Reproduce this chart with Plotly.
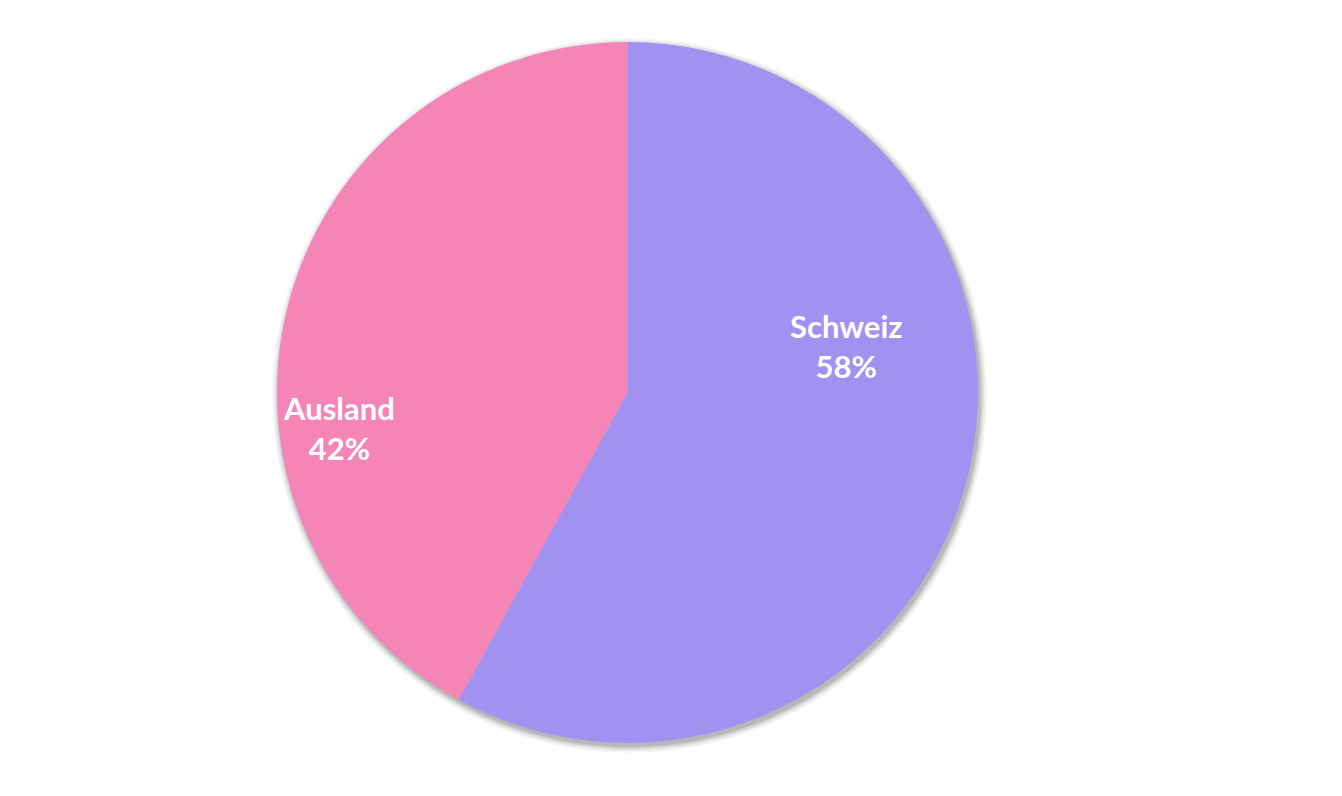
import plotly.graph_objects as go

labels = ["Schweiz", "Ausland"]
values = [58, 42]
colors = ["#A192F2", "#F585B7"]

W, H = 1342, 796
OFF = 8  # page body margin
cx, cy, r = 627.5 - OFF, 392.5 - OFF, 350.5

fig = go.Figure(go.Pie(
    labels=labels,
    values=values,
    sort=False,
    direction="clockwise",
    rotation=0,
    marker=dict(colors=colors, line=dict(width=0)),
    textinfo="none",
    domain=dict(x=[(cx - r) / W, (cx + r) / W], y=[(H - cy - r) / H, (H - cy + r) / H]),
    hoverinfo="label+percent",
    showlegend=False,
))

# label positions (page pixels) for each slice
label_pos = [(846, 346), (339, 428)]
total = sum(values)
annotations = []
for lab, val, (px, py) in zip(labels, values, label_pos):
    annotations.append(dict(
        x=(px - OFF) / W, y=(H - (py - OFF)) / H, xref="paper", yref="paper",
        text=f"<b>{lab}<br>{round(100 * val / total)}%</b>", showarrow=False,
        xanchor="center", yanchor="middle", align="center",
        font=dict(family="Lato, 'Open Sans', sans-serif", size=31, color="white"),
    ))

# soft drop shadow behind the pie
shapes = []
for grow, op in [(7, 0.03), (5.5, 0.04), (4, 0.06), (2.5, 0.08), (1, 0.10)]:
    dx, dy = 2, 3
    rr = r + grow
    shapes.append(dict(
        type="circle", xref="paper", yref="paper", layer="below",
        x0=(cx + dx - rr) / W, x1=(cx + dx + rr) / W,
        y0=(H - cy - dy - rr) / H, y1=(H - cy - dy + rr) / H,
        fillcolor="rgba(0,0,0,1)", opacity=op, line=dict(width=0),
    ))

fig.update_layout(
    width=W, height=H,
    margin=dict(l=0, r=0, t=0, b=0),
    paper_bgcolor="white", plot_bgcolor="white",
    shapes=shapes,
    annotations=annotations,
)

fig.write_html("out.html")
